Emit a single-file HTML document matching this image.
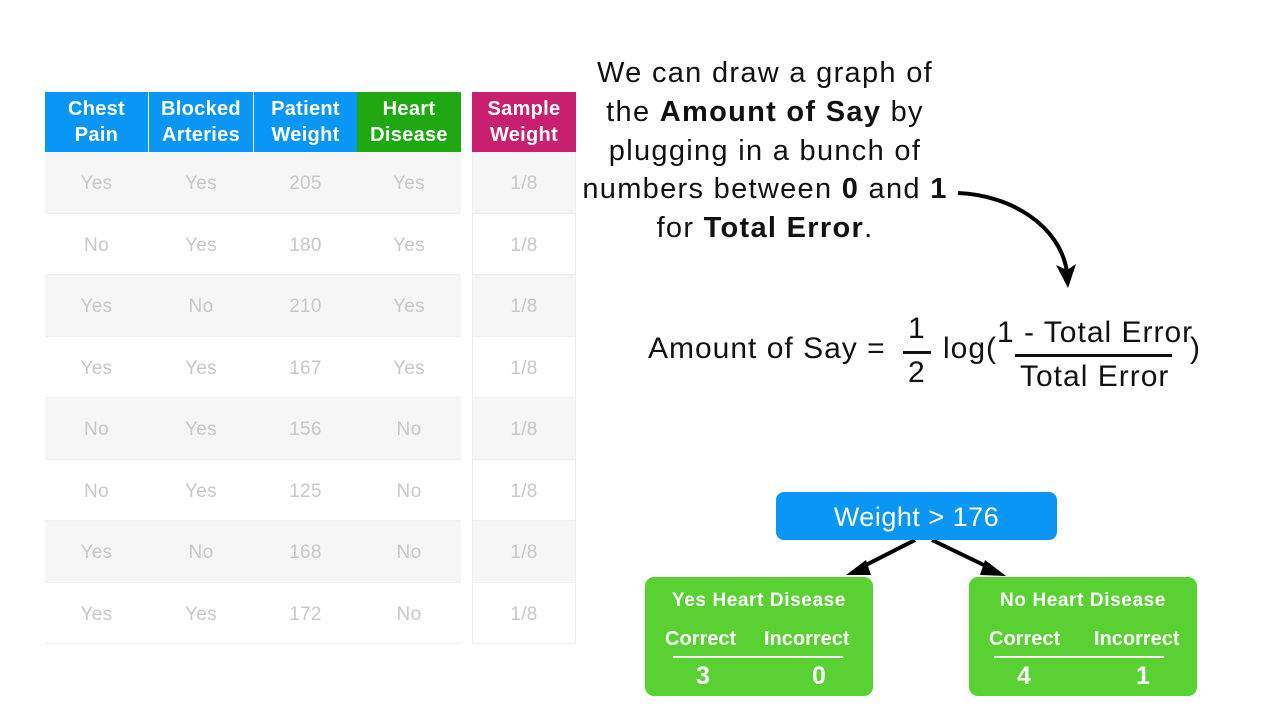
<!DOCTYPE html>
<html><head><meta charset="utf-8"><style>
body{margin:0;width:1280px;height:720px;background:#fff;position:relative;overflow:hidden;font-family:"Liberation Sans",Arial,sans-serif}
.a{position:absolute}
.h{position:absolute;top:92px;height:60px;color:#fff;font-weight:bold;font-size:20px;letter-spacing:0.3px;line-height:26px;text-align:center;display:flex;align-items:center;justify-content:center}
.c{position:absolute;height:61.5px;line-height:64px;text-align:center;color:#c8c8c8;font-size:19px;letter-spacing:0.3px}
.t{position:absolute;left:465px;width:600px;text-align:center;font-size:29px;letter-spacing:1.3px;color:#111;white-space:nowrap}
.f{position:absolute;font-size:30px;letter-spacing:1px;color:#111;white-space:nowrap}
.g{position:absolute;top:577px;width:228px;height:119px;background:#59d133;border-radius:9px;color:#fff;font-weight:bold}
</style></head><body>
<div class="h" style="left:45px;width:103px;background:#0a96f5">Chest<br>Pain</div>
<div class="h" style="left:149px;width:104px;background:#0a96f5">Blocked<br>Arteries</div>
<div class="h" style="left:254px;width:103px;background:#0a96f5">Patient<br>Weight</div>
<div class="h" style="left:357px;width:104px;background:#1fa812">Heart<br>Disease</div>
<div class="h" style="left:472px;width:104px;background:#c8206e">Sample<br>Weight</div>
<div id="rows"></div>
<script>
var d=[["Yes","Yes","205","Yes"],["No","Yes","180","Yes"],["Yes","No","210","Yes"],["Yes","Yes","167","Yes"],["No","Yes","156","No"],["No","Yes","125","No"],["Yes","No","168","No"],["Yes","Yes","172","No"]];
var xs=[45,149,254,357],ws=[103,104,103,104],h="";
d.forEach(function(r,i){var y=152+i*61.5,bg=i%2==0?"#f6f6f6":"#fff";
h+='<div class="a" style="left:45px;top:'+y+'px;width:416px;height:61.5px;background:'+bg+';border-bottom:1px solid #f0f0f0;box-sizing:border-box"></div>';
h+='<div class="a" style="left:472px;top:'+y+'px;width:104px;height:61.5px;background:'+bg+';border-bottom:1px solid #f0f0f0;box-sizing:border-box"></div>';
r.forEach(function(v,j){h+='<div class="c" style="left:'+xs[j]+'px;width:'+ws[j]+'px;top:'+y+'px">'+v+'</div>'});
h+='<div class="c" style="left:472px;width:104px;top:'+y+'px">1/8</div>';});
document.getElementById("rows").innerHTML=h;
</script>
<div class="a" style="left:472px;top:152px;width:1px;height:492px;background:#eee"></div>
<div class="a" style="left:575px;top:152px;width:1px;height:492px;background:#eee"></div>
<div class="t" style="top:57px">We can draw a graph of</div>
<div class="t" style="top:96px">the <b>Amount of Say</b> by</div>
<div class="t" style="top:135px">plugging in a bunch of</div>
<div class="t" style="top:173px">numbers between <b>0</b> and <b>1</b></div>
<div class="t" style="top:212px">for <b>Total Error</b>.</div>
<div class="f" style="left:648px;top:332px">Amount of Say =</div>
<div class="f" style="left:908px;top:312px">1</div>
<div class="a" style="left:903px;top:351px;width:28px;height:3px;background:#111"></div>
<div class="f" style="left:908px;top:356px">2</div>
<div class="f" style="left:943px;top:332px">log(</div>
<div class="f" style="left:997px;top:316px">1 - Total Error</div>
<div class="a" style="left:1015px;top:354px;width:157px;height:3px;background:#111"></div>
<div class="f" style="left:1020px;top:360px">Total Error</div>
<div class="f" style="left:1190px;top:332px">)</div>
<svg class="a" style="left:0;top:0" width="1280" height="720">
<path d="M958 193 C1010 195 1060 225 1067 272" fill="none" stroke="#000" stroke-width="4"/>
<polygon points="1056,265 1068,288 1076,264 1067,270" fill="#000"/>
<line x1="915" y1="540" x2="860" y2="568" stroke="#000" stroke-width="4"/>
<polygon points="846,575 866,560 871,575" fill="#000"/>
<line x1="932" y1="540" x2="990" y2="568" stroke="#000" stroke-width="4"/>
<polygon points="1006,576 985,560 980,575" fill="#000"/>
</svg>
<div class="a" style="left:776px;top:492px;width:281px;height:48px;background:#0a96f5;border-radius:8px;color:#fff;font-size:27px;letter-spacing:0.5px;line-height:50px;text-align:center">Weight &gt; 176</div>
<div class="g" style="left:645px">
<div class="a" style="left:0;width:228px;top:13px;text-align:center;font-size:19px;letter-spacing:0.6px">Yes Heart Disease</div>
<div class="a" style="left:20px;top:51px;font-size:20px">Correct</div>
<div class="a" style="left:119px;top:51px;font-size:20px">Incorrect</div>
<div class="a" style="left:28px;top:79px;width:170px;height:2px;background:#fff"></div>
<div class="a" style="left:51px;top:85px;font-size:25px">3</div>
<div class="a" style="left:167px;top:85px;font-size:25px">0</div>
</div>
<div class="g" style="left:969px">
<div class="a" style="left:0;width:228px;top:13px;text-align:center;font-size:19px;letter-spacing:0.6px">No Heart Disease</div>
<div class="a" style="left:20px;top:51px;font-size:20px">Correct</div>
<div class="a" style="left:125px;top:51px;font-size:20px">Incorrect</div>
<div class="a" style="left:25px;top:79px;width:170px;height:2px;background:#fff"></div>
<div class="a" style="left:48px;top:85px;font-size:25px">4</div>
<div class="a" style="left:167px;top:85px;font-size:25px">1</div>
</div>
</body></html>
